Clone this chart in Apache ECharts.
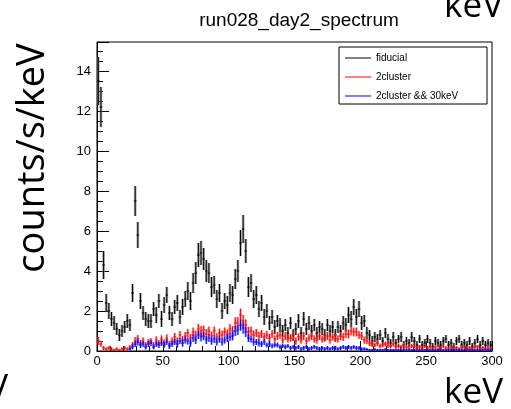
<!DOCTYPE html>
<html>
<head>
<meta charset="utf-8">
<script src="https://cdn.jsdelivr.net/npm/echarts@6/dist/echarts.min.js"></script>
<style>html,body{margin:0;padding:0;background:#fff;}#c{width:511px;height:409px;}</style>
</head>
<body>
<div id="c"></div>
<script>
// Histogram binning: 150 bins of 2 keV from 0 to 300 keV
const BIN_MIN = 0;
const BIN_WIDTH = 2;
const xTicks = [0, 50, 100, 150, 200, 250, 300];
const yTicks = [0, 2, 4, 6, 8, 10, 12, 14];
const seriesNames = ['fiducial', '2cluster', '2cluster && 30keV'];

const fiducial = [
 13.5,12.2,4.3,2.4,2.0,1.6,1.4,1.1,0.8,1.0,
 1.2,1.5,1.3,2.9,7.5,5.8,2.5,1.9,1.6,1.5,
 1.5,2.1,1.8,2.5,1.6,2.3,2.8,1.9,1.6,2.2,
 2.4,1.7,2.2,2.6,3.0,2.5,3.4,3.9,4.8,4.9,
 4.6,4.0,3.9,3.2,3.3,2.6,2.9,2.0,2.5,2.3,
 2.9,2.8,3.6,4.0,5.4,6.1,5.0,3.2,3.4,2.6,
 2.8,2.1,2.4,1.7,2.0,1.4,1.7,1.2,1.5,1.3,
 1.0,1.3,0.9,1.4,0.8,1.1,1.5,0.9,1.6,1.1,
 1.4,1.0,1.3,0.9,1.2,1.1,0.8,1.3,1.0,1.2,
 0.8,1.2,1.0,1.4,1.3,1.8,1.6,2.2,1.7,2.1,
 1.4,1.5,0.9,0.8,0.5,0.7,0.6,0.8,0.5,0.9,
 0.6,0.4,0.7,0.4,0.6,0.7,0.3,0.5,0.4,0.7,
 0.5,0.3,0.6,0.3,0.4,0.6,0.4,0.2,0.5,0.4,
 0.3,0.5,0.6,0.3,0.4,0.2,0.5,0.6,0.3,0.4,
 0.3,0.5,0.2,0.4,0.6,0.3,0.5,0.3,0.4,0.3];
const fiducialErr = [
 1.2,1.0,0.7,0.45,0.4,0.35,0.35,0.3,0.3,0.3,
 0.3,0.35,0.3,0.45,0.75,0.65,0.4,0.35,0.35,0.35,
 0.35,0.35,0.4,0.35,0.4,0.4,0.4,0.35,0.35,0.35,
 0.4,0.35,0.4,0.4,0.45,0.45,0.5,0.55,0.6,0.6,
 0.55,0.55,0.5,0.5,0.45,0.45,0.45,0.4,0.4,0.45,
 0.45,0.45,0.5,0.55,0.65,0.7,0.6,0.5,0.45,0.45,
 0.45,0.4,0.4,0.4,0.35,0.35,0.35,0.35,0.3,0.35,
 0.3,0.3,0.3,0.3,0.3,0.3,0.35,0.3,0.35,0.3,
 0.35,0.3,0.3,0.3,0.3,0.3,0.3,0.3,0.3,0.3,
 0.3,0.3,0.3,0.35,0.35,0.4,0.4,0.4,0.4,0.4,
 0.35,0.3,0.3,0.25,0.25,0.25,0.25,0.25,0.2,0.25,
 0.25,0.2,0.25,0.2,0.2,0.25,0.2,0.2,0.2,0.25,
 0.2,0.2,0.2,0.2,0.2,0.2,0.2,0.2,0.2,0.2,
 0.2,0.2,0.2,0.2,0.2,0.2,0.2,0.2,0.2,0.2,
 0.2,0.2,0.2,0.2,0.2,0.2,0.2,0.2,0.2,0.2];

const cluster2 = [
 0.5,0.35,0.15,0.1,0.15,0.1,0.05,0.1,0.05,0.1,
 0.15,0.1,0.2,0.3,0.5,0.6,0.4,0.5,0.3,0.45,
 0.5,0.3,0.55,0.4,0.6,0.4,0.65,0.35,0.5,0.7,
 0.5,0.8,0.55,0.75,0.9,0.65,0.95,0.8,1.1,1.0,
 1.05,0.85,1.0,0.75,1.0,0.7,0.9,0.8,0.95,0.85,
 1.1,1.0,1.4,1.4,1.8,1.5,1.3,0.95,1.0,0.8,
 0.9,0.75,0.85,0.7,0.8,0.65,0.85,0.6,0.75,0.8,
 0.55,0.75,0.6,0.65,0.75,0.5,0.7,0.55,0.75,0.5,
 0.65,0.75,0.6,0.55,0.75,0.6,0.65,0.75,0.55,0.7,
 0.65,0.6,0.75,0.7,0.85,0.85,1.0,0.95,0.95,0.8,
 0.75,0.55,0.5,0.4,0.35,0.3,0.4,0.25,0.3,0.35,
 0.3,0.25,0.35,0.2,0.25,0.2,0.3,0.2,0.15,0.25,
 0.25,0.15,0.2,0.15,0.25,0.15,0.2,0.1,0.2,0.1,
 0.15,0.25,0.15,0.1,0.15,0.2,0.15,0.1,0.2,0.2,
 0.1,0.15,0.1,0.2,0.2,0.1,0.15,0.1,0.15,0.1];
const cluster2Err = [
 0.2,0.15,0.1,0.08,0.1,0.08,0.05,0.08,0.05,0.08,
 0.1,0.08,0.1,0.15,0.2,0.2,0.15,0.18,0.15,0.15,
 0.15,0.15,0.18,0.15,0.18,0.18,0.18,0.15,0.18,0.2,
 0.18,0.2,0.2,0.2,0.2,0.2,0.22,0.22,0.25,0.25,
 0.22,0.25,0.22,0.22,0.22,0.2,0.22,0.22,0.22,0.22,
 0.25,0.25,0.28,0.3,0.32,0.3,0.28,0.25,0.22,0.22,
 0.2,0.22,0.2,0.2,0.2,0.2,0.2,0.18,0.2,0.2,
 0.18,0.2,0.18,0.18,0.2,0.18,0.18,0.18,0.2,0.18,
 0.18,0.2,0.18,0.18,0.2,0.18,0.18,0.2,0.18,0.18,
 0.2,0.18,0.2,0.2,0.2,0.22,0.22,0.22,0.22,0.2,
 0.2,0.18,0.15,0.15,0.15,0.12,0.15,0.12,0.12,0.12,
 0.15,0.12,0.12,0.1,0.12,0.1,0.12,0.1,0.1,0.1,
 0.12,0.1,0.1,0.1,0.1,0.1,0.1,0.1,0.1,0.08,
 0.1,0.1,0.1,0.08,0.1,0.1,0.1,0.08,0.1,0.1,
 0.08,0.1,0.08,0.1,0.1,0.08,0.1,0.08,0.1,0.08];

const cluster2Cut = [
 0,0,0,0,0,0,0,0,0,0,
 0,0,0.1,0.2,0.35,0.45,0.3,0.35,0.2,0.35,
 0.4,0.2,0.35,0.3,0.4,0.3,0.45,0.25,0.35,0.45,
 0.35,0.5,0.4,0.55,0.5,0.4,0.65,0.55,0.8,0.7,
 0.75,0.55,0.65,0.5,0.6,0.45,0.6,0.45,0.55,0.65,
 0.7,0.75,1.0,1.05,1.3,1.15,0.95,0.65,0.6,0.45,
 0.45,0.4,0.35,0.45,0.3,0.35,0.25,0.3,0.3,0.2,
 0.25,0.2,0.25,0.15,0.2,0.15,0.2,0.1,0.15,0.2,
 0.1,0.15,0.2,0.15,0.1,0.15,0.1,0.15,0.1,0.15,
 0.15,0.1,0.15,0.2,0.15,0.2,0.15,0.2,0.15,0.15,
 0.1,0.1,0.08,0.05,0.05,0.08,0.05,0.05,0.05,0.08,
 0.05,0.05,0.05,0.05,0.05,0.05,0.05,0.05,0.05,0.05,
 0.05,0.05,0.05,0.05,0.05,0.05,0.05,0.05,0.05,0.05,
 0.05,0.05,0.05,0.05,0.05,0.05,0.05,0.05,0.05,0.05,
 0.05,0.05,0.05,0.05,0.05,0.05,0.05,0.05,0.05,0.05];
const cluster2CutErr = [
 0,0,0,0,0,0,0,0,0,0,
 0,0,0.08,0.12,0.15,0.18,0.15,0.15,0.12,0.15,
 0.15,0.12,0.15,0.15,0.15,0.15,0.15,0.15,0.15,0.15,
 0.18,0.15,0.18,0.18,0.18,0.18,0.2,0.2,0.2,0.22,
 0.2,0.2,0.2,0.18,0.2,0.18,0.18,0.18,0.18,0.2,
 0.2,0.22,0.25,0.25,0.28,0.28,0.25,0.2,0.18,0.18,
 0.15,0.18,0.15,0.15,0.12,0.15,0.12,0.12,0.12,0.12,
 0.1,0.12,0.1,0.1,0.1,0.1,0.1,0.1,0.1,0.1,
 0.1,0.1,0.1,0.1,0.1,0.08,0.1,0.1,0.08,0.1,
 0.1,0.08,0.1,0.1,0.1,0.1,0.1,0.1,0.1,0.1,
 0.08,0.08,0.06,0.05,0.05,0.06,0.05,0.05,0.05,0.06,
 0.05,0.05,0.05,0.05,0.05,0.05,0.05,0.05,0.05,0.05,
 0.05,0.05,0.05,0.05,0.05,0.05,0.05,0.05,0.05,0.05,
 0.05,0.05,0.05,0.05,0.05,0.05,0.05,0.05,0.05,0.05,
 0.05,0.05,0.05,0.05,0.05,0.05,0.05,0.05,0.05,0.05];

function toData(vals, errs) {
  return vals.map((v, i) => [BIN_MIN + BIN_WIDTH * (i + 0.5), v, errs[i]]);
}

function makeRender(lineColor, boxColor) {
  return function (params, api) {
    const x = api.value(0), y = api.value(1), e = api.value(2);
    if (y <= 0 && e <= 0) return null;
    const p1 = api.coord([x - BIN_WIDTH / 2, y + e]);
    const p2 = api.coord([x + BIN_WIDTH / 2, y - e]);
    const c = api.coord([x, y]);
    return {
      type: 'group',
      children: [
        { type: 'rect', shape: { x: p1[0], y: p1[1], width: p2[0] - p1[0], height: Math.max(1, p2[1] - p1[1]) }, style: { fill: boxColor } },
        { type: 'line', shape: { x1: p1[0], y1: c[1], x2: p2[0], y2: c[1] }, style: { stroke: lineColor, lineWidth: 1 } },
        { type: 'line', shape: { x1: c[0], y1: p1[1], x2: c[0], y2: p2[1] }, style: { stroke: lineColor, lineWidth: 1 } }
      ]
    };
  };
}

const chart = echarts.init(document.getElementById('c'), null, { renderer: 'canvas' });
const labelFont = 'Liberation Sans, Arial, sans-serif';
const bigFont = 'Open Sans, sans-serif';

chart.setOption({
  animation: false,
  backgroundColor: '#fff',
  title: {
    text: 'run028_day2_spectrum',
    left: 294, top: 6, textAlign: 'center',
    textStyle: { fontFamily: labelFont, fontSize: 19, fontWeight: 'normal', color: '#000' }
  },
  grid: { left: 97, right: 19, top: 42, bottom: 58, show: true, borderColor: '#000', borderWidth: 1, backgroundColor: 'transparent' },
  legend: {
    orient: 'vertical', left: 345, top: 52, padding: 0, itemGap: 7,
    itemWidth: 26, itemHeight: 1, icon: 'rect', z: 20,
    data: seriesNames,
    textStyle: { fontFamily: labelFont, fontSize: 10, color: '#000', lineHeight: 12 }
  },
  xAxis: {
    type: 'value', min: xTicks[0], max: xTicks[xTicks.length - 1], interval: 50,
    axisLine: { lineStyle: { color: '#000', width: 1 } },
    axisTick: { inside: true, length: 10, lineStyle: { color: '#000' } },
    minorTick: { show: true, splitNumber: 5, length: 5, lineStyle: { color: '#000' } },
    splitLine: { show: false },
    axisLabel: { margin: 4, fontFamily: labelFont, fontSize: 13, color: '#000' }
  },
  yAxis: {
    type: 'value', min: yTicks[0], max: 15.45, interval: 2,
    axisLine: { lineStyle: { color: '#000', width: 1 } },
    axisTick: { inside: true, length: 12, lineStyle: { color: '#000' } },
    minorTick: { show: true, splitNumber: 4, length: 6, lineStyle: { color: '#000' } },
    splitLine: { show: false },
    axisLabel: { margin: 6, fontFamily: labelFont, fontSize: 13, color: '#000', showMaxLabel: false }
  },
  graphic: [
    { type: 'rect', shape: { x: 339, y: 47, width: 148, height: 57 }, style: { fill: '#fff', stroke: '#000', lineWidth: 1 }, z: 10 },
    { type: 'text', x: 33, y: 158, rotation: Math.PI / 2, style: { text: 'counts/s/keV', fontFamily: bigFont, fontSize: 38, fill: '#000', align: 'center', verticalAlign: 'middle' } },
    { type: 'text', x: 503, y: 411, style: { text: 'keV', fontFamily: bigFont, fontSize: 35, fill: '#000', align: 'right', verticalAlign: 'bottom' } },
    { type: 'text', x: 503, y: 25, style: { text: 'keV', fontFamily: bigFont, fontSize: 35, fill: '#000', align: 'right', verticalAlign: 'bottom' } },
    { type: 'text', x: 8, y: 407, style: { text: 'keV', fontFamily: bigFont, fontSize: 35, fill: '#000', align: 'right', verticalAlign: 'bottom' } }
  ],
  series: [
    { name: seriesNames[0], type: 'custom', clip: true, itemStyle: { color: '#000' }, renderItem: makeRender('#000', 'rgba(120,120,120,0.65)'), data: toData(fiducial, fiducialErr), z: 2 },
    { name: seriesNames[1], type: 'custom', clip: true, itemStyle: { color: '#ff0000' }, renderItem: makeRender('#ff0000', 'rgba(255,80,80,0.45)'), data: toData(cluster2, cluster2Err), z: 3 },
    { name: seriesNames[2], type: 'custom', clip: true, itemStyle: { color: '#0000ff' }, renderItem: makeRender('#0000ff', 'rgba(90,90,255,0.45)'), data: toData(cluster2Cut, cluster2CutErr), z: 4 }
  ]
});
</script>
</body>
</html>
